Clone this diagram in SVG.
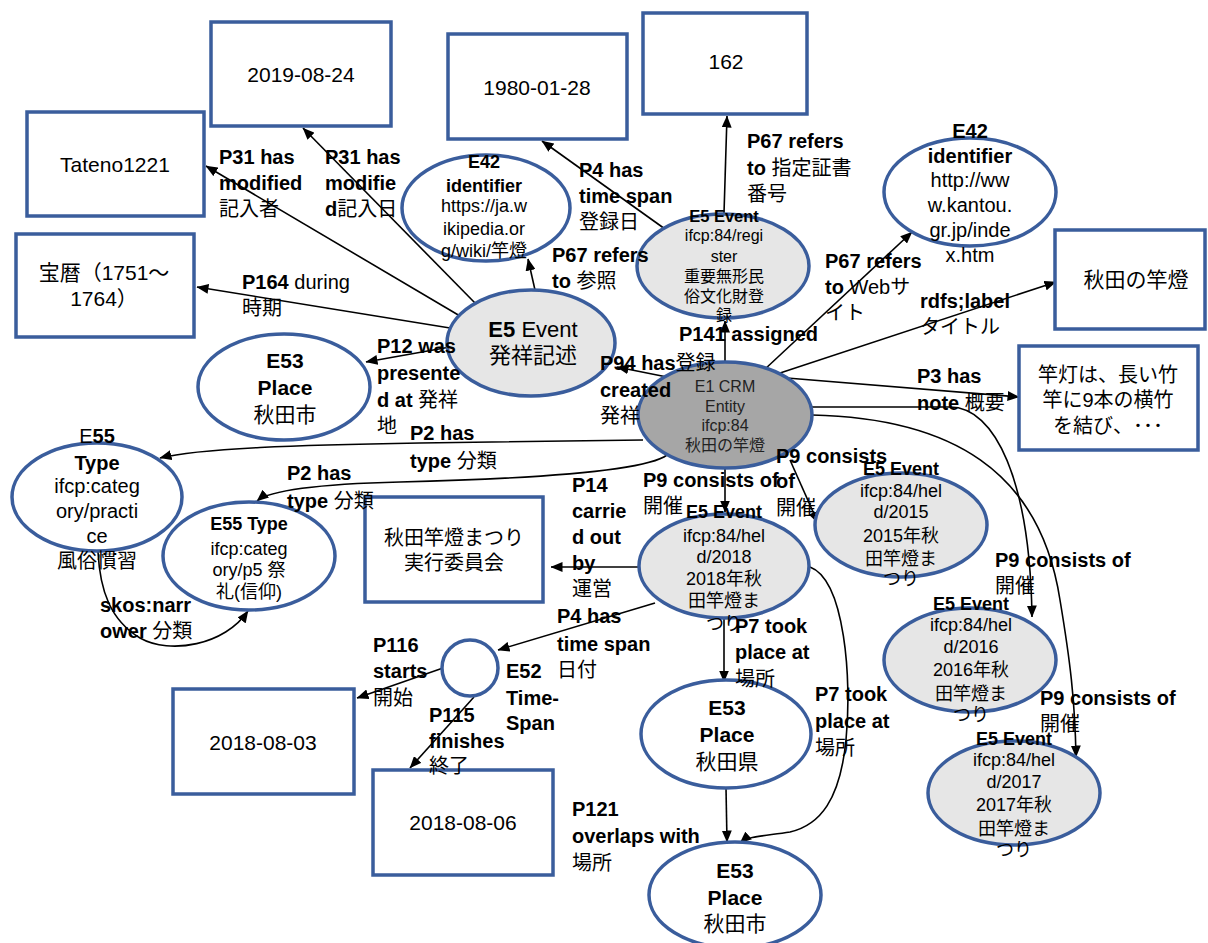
<svg xmlns="http://www.w3.org/2000/svg" width="1208" height="943" viewBox="0 0 1208 943">
<style>
text{font-family:"Liberation Sans","Noto Sans CJK JP",sans-serif;fill:#000}
.bx{fill:#fff;stroke:#3A5D9C;stroke-width:3.5}
.ew{fill:#fff;stroke:#3A5D9C;stroke-width:3.5}
.eg{fill:#E6E6E6;stroke:#3A5D9C;stroke-width:3.5}
.ed{fill:#A6A6A6;stroke:#3A5D9C;stroke-width:3.5}
.bt{font-size:21px;text-anchor:middle}
.nt{font-size:18px;text-anchor:middle}
.nl{font-size:20px;text-anchor:middle}
.b{font-weight:bold}
.lb{font-size:20px;font-weight:bold}
.n{font-weight:normal}
.c{fill:none;stroke:#000;stroke-width:1.6;marker-end:url(#arr)}
</style>
<defs>
<marker id="arr" viewBox="0 0 12 10" refX="11.5" refY="5" markerWidth="12" markerHeight="10" orient="auto" markerUnits="userSpaceOnUse"><path d="M0,0 L12,5 L0,10 z" fill="#000"/></marker>
</defs>
<rect width="1208" height="943" fill="#fff"/>

<g id="connectors">
<path class="c" d="M460 316 L206 166"/>
<path class="c" d="M475 303 L303 128"/>
<path class="c" d="M450 328 L197 287"/>
<path class="c" d="M535 290 L528 259"/>
<path class="c" d="M450 347 L366 362"/>
<path class="c" d="M665 229 L542 141"/>
<path class="c" d="M724 213 L727 116"/>
<path class="c" d="M725 362 L725 321"/>
<path class="c" d="M667 377 L617 367"/>
<path class="c" d="M764 370 L912 232"/>
<path class="c" d="M774 375 L1056 282"/>
<path class="c" d="M787 378 L1019 397"/>
<path class="c" d="M811 407 L950 407 C995 407 1030 480 1032 617"/>
<path class="c" d="M812 415 C950 418 1040 470 1060 600 C1070 660 1075 700 1076 757"/>
<path class="c" d="M790 460 L818 523"/>
<path class="c" d="M725 468 L725 512"/>
<path class="c" d="M643 440 L420 443 C300 445 200 448 160 458"/>
<path class="c" d="M667 455 C640 475 480 480 400 482 C320 484 270 490 257 501"/>
<path class="c" d="M98 552 C100 590 110 620 140 638 C170 655 225 645 248 611"/>
<path class="c" d="M639 567 L551 567"/>
<path class="c" d="M655 603 L498 650"/>
<path class="c" d="M443 668 L357 698"/>
<path class="c" d="M474 697 L410 768"/>
<path class="c" d="M724 618 L724 682"/>
<path class="c" d="M810 567 C845 580 852 680 846 740 C840 800 820 825 790 832 C765 836 748 836 740 843"/>
<path class="c" d="M726 788 L727 842"/>
</g>

<g id="n-2019-08-24"><rect class="bx" x="211" y="22" width="180" height="104"/><text class="bt" x="301" y="82">2019-08-24</text></g>
<g id="n-tateno"><rect class="bx" x="27" y="112" width="177" height="104"/><text class="bt" x="115" y="172">Tateno1221</text></g>
<g id="n-horeki"><rect class="bx" x="16" y="234" width="178" height="103"/><text class="bt" x="104" y="280">宝暦（1751～</text><text class="bt" x="104" y="306">1764）</text></g>
<g id="n-1980-01-28"><rect class="bx" x="448" y="34" width="179" height="105"/><text class="bt" x="537" y="95">1980-01-28</text></g>
<g id="n-162"><rect class="bx" x="643" y="13" width="164" height="101"/><text class="bt" x="726" y="69">162</text></g>
<g id="n-title"><rect class="bx" x="1055" y="230" width="150" height="99"/><text class="bt" x="1136" y="287">秋田の竿燈</text></g>
<g id="n-note"><rect class="bx" x="1019" y="346" width="179" height="104"/><text class="nl" x="1108" y="382">竿灯は、長い竹</text><text class="nl" x="1108" y="407">竿に9本の横竹</text><text class="nl" x="1108" y="433">を結び、･･･</text></g>
<g id="n-committee"><rect class="bx" x="365" y="497" width="178" height="105"/><text class="nl" x="454" y="545">秋田竿燈まつり</text><text class="nl" x="454" y="570">実行委員会</text></g>
<g id="n-2018-08-03"><rect class="bx" x="173" y="689" width="181" height="105"/><text class="bt" x="263" y="750">2018-08-03</text></g>
<g id="n-2018-08-06"><rect class="bx" x="373" y="770" width="180" height="105"/><text class="bt" x="463" y="830">2018-08-06</text></g>

<g id="n-e42-wiki"><ellipse class="ew" cx="486" cy="208" rx="84" ry="53"/>
<text class="nt b" x="484" y="168">E42</text><text class="nt b" x="484" y="192">identifier</text><text class="nt" x="484" y="212">https://ja.w</text><text class="nt" x="484" y="235">ikipedia.or</text><text class="nt" x="484" y="257">g/wiki/竿燈</text></g>

<g id="n-e5-hassho"><ellipse class="eg" cx="531" cy="343" rx="84" ry="53"/>
<text x="533" y="337" style="font-size:22px;text-anchor:middle"><tspan class="b">E5</tspan> Event</text><text x="533" y="363" style="font-size:22px;text-anchor:middle">発祥記述</text></g>

<g id="n-e5-register"><ellipse class="eg" cx="723" cy="266" rx="86" ry="52"/>
<text x="724" y="222" class="b" style="font-size:16.5px;text-anchor:middle">E5 Event</text>
<text x="724" y="241" style="font-size:16px;text-anchor:middle">ifcp:84/regi</text>
<text x="724" y="262" style="font-size:16px;text-anchor:middle">ster</text>
<text x="724" y="282" style="font-size:16px;text-anchor:middle">重要無形民</text>
<text x="724" y="302" style="font-size:16px;text-anchor:middle">俗文化財登</text>
<text x="724" y="321" style="font-size:16px;text-anchor:middle">録</text></g>

<g id="n-e42-kantou"><ellipse class="ew" cx="970" cy="192" rx="86" ry="54"/>
<text class="nl b" x="970" y="138">E42</text><text class="nl b" x="970" y="163">identifier</text><text class="nl" x="970" y="187">http://ww</text><text class="nl" x="970" y="212">w.kantou.</text><text class="nl" x="970" y="237">gr.jp/inde</text><text class="nl" x="970" y="262">x.htm</text></g>

<g id="n-e53-akitashi-1"><ellipse class="ew" cx="284" cy="387" rx="86" ry="53"/>
<text class="b" x="285" y="368" style="font-size:21px;text-anchor:middle">E53</text><text class="b" x="285" y="395" style="font-size:21px;text-anchor:middle">Place</text><text x="285" y="422" style="font-size:21px;text-anchor:middle">秋田市</text></g>

<g id="n-e1"><ellipse class="ed" cx="725" cy="415" rx="87" ry="53"/>
<text x="725" y="392" style="font-size:16px;text-anchor:middle;fill:#222">E1 CRM</text>
<text x="725" y="412" style="font-size:16px;text-anchor:middle;fill:#222">Entity</text>
<text x="725" y="431" style="font-size:16px;text-anchor:middle;fill:#222">ifcp:84</text>
<text x="725" y="451" style="font-size:16px;text-anchor:middle;fill:#222">秋田の竿燈</text></g>

<g id="n-e55-practice"><ellipse class="ew" cx="97" cy="497" rx="85" ry="54"/>
<text class="nl" x="97" y="443">E<tspan class="b">55</tspan></text><text class="nl b" x="97" y="470">Type</text><text class="nl" x="97" y="493">ifcp:categ</text><text class="nl" x="97" y="518">ory/practi</text><text class="nl" x="97" y="543">ce</text><text class="nl" x="97" y="568">風俗慣習</text></g>

<g id="n-e55-p5"><ellipse class="ew" cx="249" cy="556" rx="86" ry="54"/>
<text class="nt b" x="249" y="530">E55 Type</text><text class="nt" x="249" y="555">ifcp:categ</text><text class="nt" x="249" y="576">ory/p5  祭</text><text class="nt" x="249" y="598">礼(信仰)</text></g>

<g id="n-e5-2018"><ellipse class="eg" cx="724" cy="566" rx="85" ry="52"/>
<text class="nt b" x="724" y="518">E5 Event</text><text class="nt" x="724" y="542">ifcp:84/hel</text><text class="nt" x="724" y="563">d/2018</text><text class="nt" x="724" y="585">2018年秋</text><text class="nt" x="724" y="607">田竿燈ま</text><text class="nt" x="724" y="630">つり</text></g>

<g id="n-e5-2015"><ellipse class="eg" cx="901" cy="525" rx="86" ry="52"/>
<text class="nt b" x="901" y="475">E5 Event</text><text class="nt" x="901" y="497">ifcp:84/hel</text><text class="nt" x="901" y="518">d/2015</text><text class="nt" x="901" y="542">2015年秋</text><text class="nt" x="901" y="565">田竿燈ま</text><text class="nt" x="901" y="585">つり</text></g>

<g id="n-e5-2016"><ellipse class="eg" cx="970" cy="660" rx="86" ry="52"/>
<text class="nt b" x="971" y="610">E5 Event</text><text class="nt" x="971" y="631">ifcp:84/hel</text><text class="nt" x="971" y="653">d/2016</text><text class="nt" x="971" y="676">2016年秋</text><text class="nt" x="971" y="700">田竿燈ま</text><text class="nt" x="971" y="721">つり</text></g>

<g id="n-e5-2017"><ellipse class="eg" cx="1014" cy="793" rx="86" ry="52"/>
<text class="nt b" x="1014" y="745">E5 Event</text><text class="nt" x="1014" y="766">ifcp:84/hel</text><text class="nt" x="1014" y="788">d/2017</text><text class="nt" x="1014" y="811">2017年秋</text><text class="nt" x="1014" y="835">田竿燈ま</text><text class="nt" x="1014" y="856">つり</text></g>

<g id="n-e52"><circle class="ew" cx="470" cy="668" r="28"/></g>

<g id="n-e53-akitaken"><ellipse class="ew" cx="726" cy="734" rx="85" ry="54"/>
<text class="b" x="727" y="715" style="font-size:21px;text-anchor:middle">E53</text><text class="b" x="727" y="742" style="font-size:21px;text-anchor:middle">Place</text><text x="727" y="769" style="font-size:21px;text-anchor:middle">秋田県</text></g>

<g id="n-e53-akitashi-2"><ellipse class="ew" cx="735" cy="895" rx="86" ry="53"/>
<text class="b" x="735" y="878" style="font-size:21px;text-anchor:middle">E53</text><text class="b" x="735" y="905" style="font-size:21px;text-anchor:middle">Place</text><text x="735" y="931" style="font-size:21px;text-anchor:middle">秋田市</text></g>

<g id="labels" class="lb">
<text x="219" y="164">P31 has</text><text x="219" y="190">modified</text><text x="219" y="216" class="n">記入者</text>
<text x="325" y="164">P31 has</text><text x="325" y="190">modifie</text><text x="325" y="216">d<tspan class="n">記入日</tspan></text>
<text x="242" y="289">P164<tspan class="n"> during</tspan></text><text x="242" y="315" class="n">時期</text>
<text x="579" y="177">P4 has</text><text x="579" y="203">time span</text><text x="579" y="229" class="n">登録日</text>
<text x="552" y="262">P67 refers</text><text x="552" y="288">to<tspan class="n"> 参照</tspan></text>
<text x="747" y="148">P67 refers</text><text x="747" y="175">to<tspan class="n"> 指定証書</tspan></text><text x="747" y="201" class="n">番号</text>
<text x="825" y="268">P67 refers</text><text x="825" y="294">to<tspan class="n"> Webサ</tspan></text><text x="825" y="320" class="n">イト</text>
<text x="920" y="308">rdfs;label</text><text x="920" y="334" class="n">タイトル</text>
<text x="679" y="341">P141 assigned</text>
<text x="600" y="370">P94 has<tspan class="n">登録</tspan></text><text x="600" y="397">created</text><text x="600" y="423" class="n">発祥</text>
<text x="377" y="353">P12 was</text><text x="377" y="380">presente</text><text x="377" y="407">d at<tspan class="n"> 発祥</tspan></text><text x="377" y="433" class="n">地</text>
<text x="410" y="440">P2 has</text><text x="410" y="468">type<tspan class="n"> 分類</tspan></text>
<text x="287" y="480">P2 has</text><text x="287" y="508">type<tspan class="n"> 分類</tspan></text>
<text x="100" y="612">skos:narr</text><text x="100" y="638">ower<tspan class="n"> 分類</tspan></text>
<text x="572" y="492">P14</text><text x="572" y="518">carrie</text><text x="572" y="544">d out</text><text x="572" y="570">by</text><text x="572" y="596" class="n">運営</text>
<text x="643" y="487">P9 consists of</text><text x="643" y="513" class="n">開催</text>
<text x="776" y="463">P9 consists</text><text x="776" y="488">of</text><text x="776" y="515" class="n">開催</text>
<text x="995" y="567">P9 consists of</text><text x="995" y="593" class="n">開催</text>
<text x="1040" y="705">P9 consists of</text><text x="1040" y="731" class="n">開催</text>
<text x="917" y="383">P3 has</text><text x="917" y="410">note<tspan class="n"> 概要</tspan></text>
<text x="557" y="623">P4 has</text><text x="557" y="651">time span</text><text x="557" y="677" class="n">日付</text>
<text x="373" y="652">P116</text><text x="373" y="678">starts</text><text x="373" y="705" class="n">開始</text>
<text x="506" y="678">E52</text><text x="506" y="705">Time-</text><text x="506" y="730">Span</text>
<text x="429" y="722">P115</text><text x="429" y="748">finishes</text><text x="429" y="773" class="n">終了</text>
<text x="735" y="633">P7 took</text><text x="735" y="659">place at</text><text x="735" y="686" class="n">場所</text>
<text x="815" y="701">P7 took</text><text x="815" y="728">place at</text><text x="815" y="755" class="n">場所</text>
<text x="572" y="816">P121</text><text x="572" y="843">overlaps with</text><text x="572" y="870" class="n">場所</text>
</g>
</svg>
